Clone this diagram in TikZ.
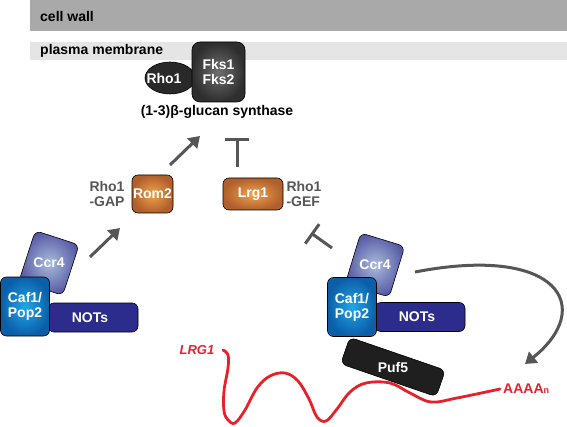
\documentclass[tikz,border=0pt]{standalone}
\usepackage{fontspec}
\setmainfont{Liberation Sans}
\usepackage{xcolor}
\usetikzlibrary{positioning, shapes.geometric, arrows.meta}

\definecolor{wallgray}{HTML}{A9A9A9}
\definecolor{memgray}{HTML}{E5E5E5}
\definecolor{arrowgray}{HTML}{565656}
\definecolor{mrnared}{HTML}{E8202A}
\definecolor{notsblue}{HTML}{2C2C8C}
\definecolor{orangehi}{HTML}{F2A24C}
\definecolor{orangelo}{HTML}{B0602C}
\definecolor{ccrhi}{HTML}{A9BCDB}
\definecolor{ccrlo}{HTML}{5558A4}
\definecolor{cafhi}{HTML}{22A6E8}
\definecolor{caflo}{HTML}{0B5FA8}
\definecolor{fkshi}{HTML}{6E6E6E}
\definecolor{fkslo}{HTML}{2E2E2E}

\begin{document}
\begin{tikzpicture}[
    x=1pt, y=1pt,
    font=\fontsize{14}{15}\selectfont\bfseries,
    prot/.style={draw=black, line width=0.6pt, rounded corners=6pt, inner sep=0pt, text=white, align=center},
    enzyme/.style={prot, inner color=orangehi, outer color=orangelo},
    ccr/.style={prot, inner color=ccrhi, outer color=ccrlo, minimum width=46pt, minimum height=53pt},
    caf/.style={prot, inner color=cafhi, outer color=caflo, minimum width=49pt, minimum height=59pt},
    nots/.style={prot, fill=notsblue, minimum width=90pt, minimum height=29pt},
    note/.style={text=arrowgray, align=left, inner sep=0pt},
    arrow/.style={-{Triangle[length=11pt,width=14pt]}, line width=3pt, draw=arrowgray},
    inhibit/.style={-{Bar[width=24pt]}, line width=3pt, draw=arrowgray},
    mrna/.style={draw=mrnared, line width=2.8pt, line cap=round}
]
\useasboundingbox (0,0) rectangle (567,426);

% membranes
\fill[wallgray] (30,395) rectangle (567,426);
\fill[memgray] (30,366) rectangle (567,384);
\node[anchor=west, inner sep=0pt] (wall) at (40,410) {cell wall};
\node[anchor=west, inner sep=0pt] (memb) at (40,375) {plasma membrane};

% glucan synthase
\node[prot, ellipse, rounded corners=0pt, fill=fkslo!90!black, minimum width=50pt, minimum height=32pt] (rho) at (170,348) {};
\node[text=white] at (164,348) {Rho1};
\node[prot, rounded corners=8pt, inner color=fkshi, outer color=fkslo, minimum width=53pt, minimum height=60pt] (fks) at (218.5,354) {Fks1\\Fks2};
\node[inner sep=0pt] (synth) at (217,314) {(1-3)β-glucan synthase};

% regulators
\node[enzyme, minimum width=41pt, minimum height=38pt] (rom2) at (152.5,232) {Rom2};
\node[enzyme, minimum width=60pt, minimum height=32pt] (lrg1) at (253,232) {Lrg1};
\node[note, left=7pt of rom2] (gap) {Rho1\\-GAP};
\node[note, right=3pt of lrg1] (gef) {Rho1\\-GEF};

% left Ccr4-NOT complex
\node[ccr, rotate=-18] (ccrL) at (49,163) {};
\node[text=white] at (ccrL) {Ccr4};
\node[nots] (notsL) at (93,108.5) {\hspace*{-6pt}NOTs};
\node[caf] (cafL) at (25,119.5) {Caf1/\\Pop2};

% right Ccr4-NOT complex with Puf5
\node[prot, fill=black!88, minimum width=101pt, minimum height=28pt, rotate=-19] (puf5) at (393,59) {};
\node[text=white] at (puf5) {Puf5};
\node[ccr, rotate=-17] (ccrR) at (375,161) {};
\node[text=white] at (ccrR) {Ccr4};
\node[nots] (notsR) at (420,109) {\hspace*{-6pt}NOTs};
\node[caf] (cafR) at (352,119) {Caf1/\\Pop2};

% mRNA
\node[text=mrnared, font=\fontsize{13}{15}\selectfont\bfseries\itshape] (lrgtxt) at (197,76) {LRG1};
\node[text=mrnared, anchor=west, inner sep=0pt] (polya) at (503,37) {AAAA{\fontsize{9}{10}\selectfont n}};
\coordinate (m0) at (223,76);
\coordinate (m1) at (500,37);
\draw[mrna] plot[smooth, tension=0.6] coordinates {(m0) (228,71) (228,58) (224,35) (224,15) (228,6) (235,3) (245,16) (257,38) (270,50) (285,53) (298,45) (309,27) (317,9) (326,5) (337,17) (350,34) (366,43) (390,43) (410,33) (431,24) (457,28) (m1)};

% connectors
\coordinate (a1s) at (90,169);
\coordinate (a1e) at (120,198);
\coordinate (a2s) at (170,261);
\coordinate (a2e) at (200,290);
\coordinate (t1s) at (237,259);
\coordinate (t1e) at (237,288);
\coordinate (t2s) at (332,178);
\coordinate (t2e) at (311,193);
\coordinate (cs) at (415,154);
\coordinate (ce) at (525,62);
\draw[arrow] (a1s) -- (a1e);
\draw[arrow] (a2s) -- (a2e);
\draw[inhibit] (t1s) -- (t1e);
\draw[inhibit] (t2s) -- (t2e);
\draw[arrow] (cs) .. controls (560,182) and (595,118) .. (ce);
\end{tikzpicture}
\end{document}
